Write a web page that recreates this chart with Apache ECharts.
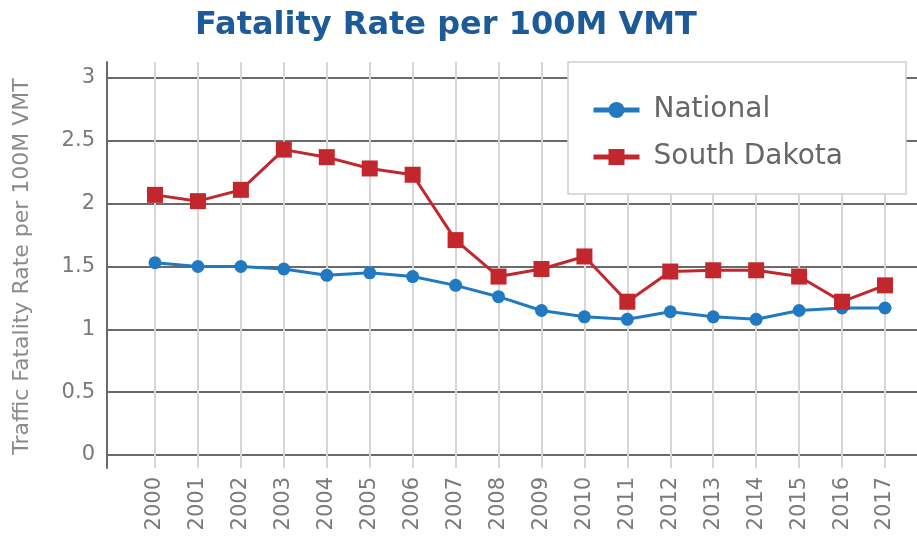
<!DOCTYPE html>
<html>
<head>
<meta charset="utf-8">
<script src="https://cdn.jsdelivr.net/npm/echarts@6/dist/echarts.min.js"></script>
<style>
  html, body { margin: 0; padding: 0; background: #fff; }
  #main { width: 917px; height: 537px; }
</style>
</head>
<body>
<div id="main"></div>
<script>
// data
var years = ['2000', '2001', '2002', '2003', '2004', '2005', '2006', '2007', '2008',
  '2009', '2010', '2011', '2012', '2013', '2014', '2015', '2016', '2017'];
var national = [1.53, 1.50, 1.50, 1.48, 1.43, 1.45, 1.42, 1.35, 1.26,
  1.15, 1.10, 1.08, 1.14, 1.10, 1.08, 1.15, 1.17, 1.17];
var southDakota = [2.07, 2.02, 2.11, 2.43, 2.37, 2.28, 2.23, 1.71, 1.42,
  1.48, 1.58, 1.22, 1.46, 1.47, 1.47, 1.42, 1.22, 1.35];
var yMin = 0, yMax = 3, yStep = 0.5;

var font = 'DejaVu Sans';
var chart = echarts.init(document.getElementById('main'), null, { renderer: 'canvas' });

var option = {
  animation: false,
  textStyle: { fontFamily: font },
  title: {
    text: 'Fatality Rate per 100M VMT',
    left: 441,
    textAlign: 'center',
    top: 5,
    textStyle: { fontFamily: font, fontSize: 32, fontWeight: 'bold', color: '#1c5a98' }
  },
  legend: {
    orient: 'vertical',
    left: 568,
    top: 62,
    padding: [34, 63, 23, 23],
    itemGap: 19,
    itemWidth: 46,
    itemHeight: 20,
    backgroundColor: '#fff',
    borderColor: '#cfcfcf',
    borderWidth: 1.5,
    lineStyle: { width: 5 },
    textStyle: { fontFamily: font, fontSize: 28, color: '#666', padding: [0, 0, 0, 9] },
    data: ['National', 'South Dakota']
  },
  grid: [
    // horizontal lines + y labels
    { left: 107, right: 0, top: 78, bottom: 82 },
    // plot area
    { left: 155, right: 32, top: 62, bottom: 69 },
    // y axis line
    { left: 107, width: 4, top: 62, bottom: 69 }
  ],
  xAxis: [
    { gridIndex: 0, type: 'value', show: false },
    {
      gridIndex: 1,
      type: 'category',
      data: years,
      boundaryGap: false,
      axisLine: { show: false },
      axisTick: { show: false },
      splitLine: { show: true, lineStyle: { color: '#d6d6d6', width: 2 } },
      axisLabel: { rotate: 90, margin: 9, fontFamily: font, fontSize: 21, color: '#7a7a7a', interval: 0 }
    },
    { gridIndex: 2, type: 'value', show: false }
  ],
  yAxis: [
    {
      gridIndex: 0,
      type: 'value',
      min: yMin, max: yMax, interval: yStep,
      name: 'Traffic Fatality Rate per 100M VMT',
      nameLocation: 'middle',
      nameGap: 74,
      nameTextStyle: { fontFamily: font, fontSize: 22, color: '#8a8a8a' },
      axisLine: { show: false },
      axisTick: { show: false },
      axisLabel: { margin: 12, fontFamily: font, fontSize: 21, color: '#7a7a7a' },
      splitLine: { show: true, lineStyle: { color: '#6a6a6a', width: 2 } }
    },
    { gridIndex: 1, type: 'value', min: -0.103, max: 3.127, show: false },
    {
      gridIndex: 2, type: 'value', min: 0, max: 1,
      axisLine: { show: true, lineStyle: { color: '#6a6a6a', width: 2 } },
      axisTick: { show: false },
      axisLabel: { show: false },
      splitLine: { show: false }
    }
  ],
  series: [
    {
      name: 'National',
      type: 'line',
      xAxisIndex: 1,
      yAxisIndex: 1,
      data: national,
      symbol: 'circle',
      symbolSize: 13,
      lineStyle: { color: '#2179c2', width: 3 },
      itemStyle: { color: '#2179c2' }
    },
    {
      name: 'South Dakota',
      type: 'line',
      xAxisIndex: 1,
      yAxisIndex: 1,
      data: southDakota,
      symbol: 'rect',
      symbolSize: 16,
      lineStyle: { color: '#c1272d', width: 3 },
      itemStyle: { color: '#c1272d' }
    }
  ]
};

chart.setOption(option);
</script>
</body>
</html>
